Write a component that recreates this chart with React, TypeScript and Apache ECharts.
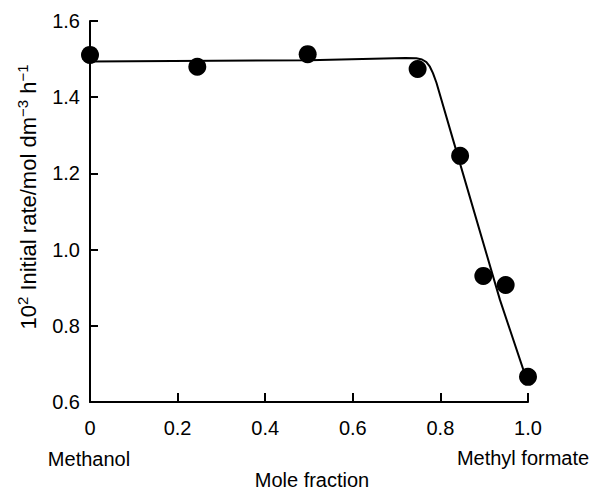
import React, { useEffect, useRef } from "react";
import * as echarts from "echarts";

// Measured points (mole fraction of methyl formate vs 10^2 initial rate)
const moleFraction = [0, 0.245, 0.497, 0.748, 0.845, 0.898, 0.949, 1.0];
const initialRate = [1.511, 1.48, 1.513, 1.474, 1.246, 0.931, 0.907, 0.666];

// Hand-drawn fitted curve
const fitX = [0, 0.5, 0.72, 0.745, 0.758, 0.768, 0.776, 0.783, 0.791, 0.829, 0.936, 0.991];
const fitY = [1.494, 1.497, 1.503, 1.502, 1.499, 1.492, 1.480, 1.463, 1.438, 1.288, 0.868, 0.679];

const yTicks = { min: 0.6, max: 1.6, interval: 0.2 };
const xTicks = { min: 0, max: 1.0, interval: 0.2 };

const xAxisName = "Mole fraction";
const leftEndLabel = "Methanol";
const rightEndLabel = "Methyl formate";

const FONT = "'Liberation Sans', Arial, Helvetica, sans-serif";

export default function App() {
  const ref = useRef<HTMLDivElement>(null);

  useEffect(() => {
    document.body.style.margin = "0";
    if (!ref.current) return;
    const chart = echarts.init(ref.current, undefined, { renderer: "svg" });

    const points = moleFraction.map((x, i) => [x, initialRate[i]]);
    const fit = fitX.map((x, i) => [x, fitY[i]]);

    chart.setOption({
      animation: false,
      backgroundColor: "#ffffff",
      textStyle: { fontFamily: FONT, color: "#000" },
      grid: {
        left: 90,
        right: 67,
        top: 21,
        bottom: 89,
        containLabel: false,
        outerBoundsMode: "none",
      },
      xAxis: {
        type: "value",
        min: xTicks.min,
        max: xTicks.max,
        interval: xTicks.interval,
        name: xAxisName,
        nameLocation: "middle",
        nameGap: 70,
        nameTextStyle: {
          fontSize: 20,
          lineHeight: 16,
          color: "#000",
          fontFamily: FONT,
          padding: [0, 0, 0, 6],
        },
        axisLine: { show: true, onZero: false, lineStyle: { color: "#000", width: 2 } },
        axisTick: { show: true, inside: true, length: 9, lineStyle: { color: "#000", width: 2 } },
        axisLabel: {
          fontSize: 20,
          color: "#000",
          fontFamily: FONT,
          margin: 16,
          formatter: (v: number) => (v === 0 ? "0" : v.toFixed(1)),
        },
        splitLine: { show: false },
      },
      yAxis: {
        type: "value",
        min: yTicks.min,
        max: yTicks.max,
        interval: yTicks.interval,
        axisLine: { show: true, onZero: false, lineStyle: { color: "#000", width: 2 } },
        axisTick: { show: true, inside: true, length: 8, lineStyle: { color: "#000", width: 2 } },
        axisLabel: {
          fontSize: 20,
          color: "#000",
          fontFamily: FONT,
          margin: 10,
          formatter: (v: number) => v.toFixed(1),
        },
        splitLine: { show: false },
      },
      series: [
        {
          type: "line",
          data: fit,
          showSymbol: false,
          symbol: "none",
          smooth: false,
          lineStyle: { color: "#000", width: 2 },
          z: 2,
        },
        {
          type: "scatter",
          data: points,
          symbol: "circle",
          symbolSize: 18,
          itemStyle: { color: "#000", opacity: 1 },
          emphasis: { disabled: true },
          z: 3,
        },
      ],
      graphic: [
        {
          type: "text",
          x: 28,
          y: 197,
          rotation: Math.PI / 2,
          style: {
            text: "{n|10}{s|2}{n| Initial rate/mol dm}{s|−3}{n| h}{s|−1}",
            align: "center",
            verticalAlign: "middle",
            fill: "#000",
            rich: {
              n: { fontSize: 22, fontFamily: FONT, fill: "#000", lineHeight: 26, verticalAlign: "middle" },
              s: { fontSize: 15, fontFamily: FONT, fill: "#000", lineHeight: 15, verticalAlign: "top" },
            },
          },
        },
        {
          type: "text",
          x: 89,
          y: 459,
          style: {
            text: leftEndLabel,
            fontSize: 20,
            fontFamily: FONT,
            fill: "#000",
            align: "center",
            verticalAlign: "middle",
          },
        },
        {
          type: "text",
          x: 523,
          y: 458,
          style: {
            text: rightEndLabel,
            fontSize: 20,
            fontFamily: FONT,
            fill: "#000",
            align: "center",
            verticalAlign: "middle",
          },
        },
      ],
    });

    return () => chart.dispose();
  }, []);

  return <div ref={ref} style={{ width: 595, height: 491 }} />;
}
